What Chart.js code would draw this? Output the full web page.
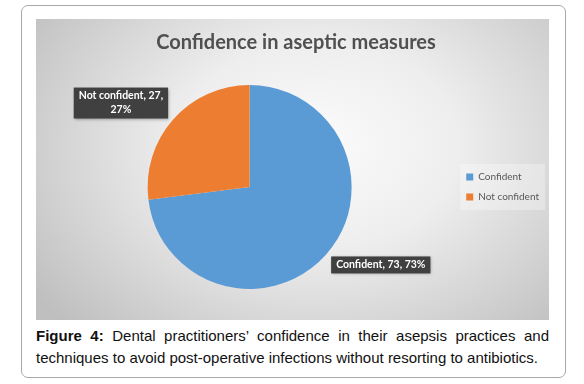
<!DOCTYPE html>
<html>
<head>
<meta charset="utf-8">
<script src="https://cdn.jsdelivr.net/npm/chart.js@4.4.1/dist/chart.umd.min.js"></script>
<style>
  body { margin: 0; background: #fff; width: 584px; height: 384px; position: relative; overflow: hidden; }
  #frame { position: absolute; left: 21px; top: 5px; width: 543px; height: 371px; border: 1.5px solid #a8a8a8; border-radius: 7px; }
  #plot { position: absolute; left: 36px; top: 19px; width: 513px; height: 301px;
    background: radial-gradient(ellipse 68% 85% at 55% 42%, #fbfbfb 0%, #eeeeee 40%, #d3d3d3 75%, #bfbfbf 100%); }
  #caption { position: absolute; left: 36px; top: 325px; width: 513px; font-family: "Liberation Sans", Arial, sans-serif;
    font-size: 15px; line-height: 22px; text-align: justify; color: #111; }
</style>
</head>
<body>
<div id="frame"></div>
<div id="plot"><canvas id="pieChart" width="513" height="301"></canvas></div>
<div id="caption"><b>Figure 4:</b> Dental practitioners’ confidence in their asepsis practices and techniques to avoid post-operative infections without resorting to antibiotics.</div>
<script>
const labels = ["Confident", "Not confident"];
const counts = [73, 27];
const percents = [73, 27];
const colors = ["#5B9BD5", "#ED7D31"];

// light panel behind the legend items
const legendPanel = {
  id: "legendPanel",
  beforeDraw(chart) {
    const boxes = chart.legend && chart.legend.legendHitBoxes;
    if (!boxes || !boxes.length) return;
    const top = boxes[0].top - 8;
    const bottom = boxes[boxes.length - 1].top + boxes[boxes.length - 1].height + 8;
    const left = Math.min(...boxes.map((b) => b.left)) - 6;
    const right = Math.max(...boxes.map((b) => b.left + b.width)) + 6;
    const c = chart.ctx;
    c.save();
    c.fillStyle = "rgba(255,255,255,0.3)";
    c.fillRect(left, top, right - left, bottom - top);
    c.restore();
  },
};

// dark callout boxes "label, value, pct%"
const calloutLabels = {
  id: "calloutLabels",
  afterDatasetsDraw(chart) {
    const c = chart.ctx;
    const meta = chart.getDatasetMeta(0);
    c.save();
    c.font = "bold 10.5px Lato, 'Open Sans', sans-serif";
    meta.data.forEach((arc, i) => {
      const mid = (arc.startAngle + arc.endAngle) / 2;
      const ex = arc.x + Math.cos(mid) * arc.outerRadius;
      const ey = arc.y + Math.sin(mid) * arc.outerRadius;
      const text = labels[i] + ", " + counts[i] + ", " + percents[i] + "%";
      const words = text.split(" ");
      const lines = [];
      let cur = "";
      words.forEach((w) => {
        const t = cur ? cur + " " + w : w;
        if (c.measureText(t).width > 96 && cur) { lines.push(cur); cur = w; } else cur = t;
      });
      lines.push(cur);
      const lh = 14;
      const w = Math.max(...lines.map((l) => c.measureText(l).width)) + 10;
      const h = lines.length * lh + 3;
      const bx = Math.cos(mid) > 0 ? ex + 5 : ex - 5 - w;
      const by = Math.sin(mid) > 0 ? ey + 2 : ey - 1 - h;
      c.shadowColor = "rgba(0,0,0,0.35)";
      c.shadowBlur = 3;
      c.shadowOffsetX = 1;
      c.shadowOffsetY = 1;
      c.fillStyle = "#404040";
      c.fillRect(bx, by, w, h);
      c.shadowColor = "transparent";
      c.fillStyle = "#ffffff";
      c.textAlign = "center";
      c.textBaseline = "middle";
      lines.forEach((l, k) => c.fillText(l, bx + w / 2, by + 1.5 + lh * k + lh / 2));
    });
    c.restore();
  },
};

const ctx = document.getElementById("pieChart").getContext("2d");
const pieChart = new Chart(ctx, {
  type: "pie",
  data: {
    labels: labels,
    datasets: [
      {
        data: counts,
        backgroundColor: colors,
        borderWidth: 0,
      },
    ],
  },
  options: {
    responsive: false,
    animation: false,
    layout: { padding: { left: 7, right: 0, top: 0, bottom: 31 } },
    plugins: {
      title: {
        display: true,
        text: "Confidence in aseptic measures",
        color: "#505050",
        font: { family: "Lato, 'Open Sans', sans-serif", size: 20, weight: "bold" },
        padding: { top: 12, bottom: 30 },
      },
      legend: {
        position: "right",
        title: { display: true, text: " ", font: { size: 10 }, padding: { top: 0, bottom: 54 } },
        labels: {
          boxWidth: 7,
          boxHeight: 7,
          padding: 10,
          color: "#595959",
          font: { family: "Lato, 'Open Sans', sans-serif", size: 10 },
        },
      },
      tooltip: { enabled: false },
    },
  },
  plugins: [legendPanel, calloutLabels],
});
</script>
</body>
</html>
